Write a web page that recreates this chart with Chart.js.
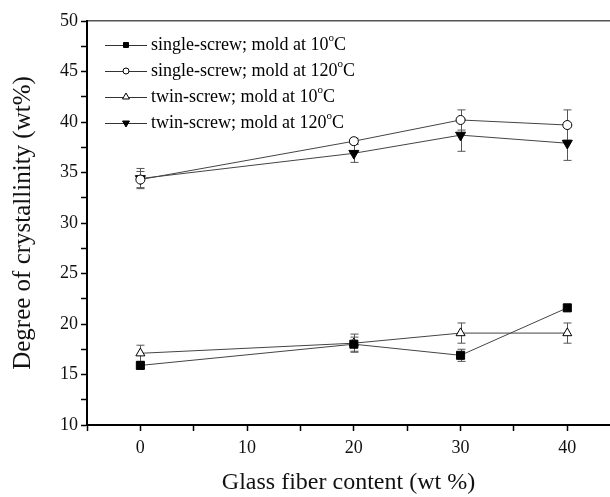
<!DOCTYPE html>
<html>
<head>
<meta charset="utf-8">
<script src="https://cdn.jsdelivr.net/npm/chart.js@4.4.0/dist/chart.umd.min.js"></script>
<style>
  html, body { margin: 0; padding: 0; background: #fff; }
  #wrap { width: 610px; height: 497px; }
</style>
</head>
<body>
<div id="wrap"><canvas id="chart" width="610" height="497"></canvas></div>
<script>
// Glass fiber content (wt %)
const fiberContent = [0, 20, 30, 40];

const seriesLabels = [
  'single-screw; mold at 10°C',
  'single-screw; mold at 120°C',
  'twin-screw; mold at 10°C',
  'twin-screw; mold at 120°C'
];

// degree of crystallinity (wt%) and error bar half-widths
const singleCold = [15.9, 18.0, 16.9, 21.6];
const singleColdErr = [0.3, 0.7, 0.6, 0.3];
const singleHot = [34.3, 38.1, 40.2, 39.7];
const singleHotErr = [0.8, 0.3, 1.0, 1.5];
const twinCold = [17.1, 18.1, 19.1, 19.1];
const twinColdErr = [0.8, 0.9, 1.0, 1.0];
const twinHot = [34.4, 36.9, 38.7, 37.9];
const twinHotErr = [1.0, 0.9, 1.6, 1.7];

const xTicks = [0, 10, 20, 30, 40];
const yTicks = [10, 15, 20, 25, 30, 35, 40, 45, 50];

const serif = 'Liberation Serif';

function toPoints(values) {
  return fiberContent.map((x, i) => ({ x: x, y: values[i] }));
}

function makeSet(label, values, errors, style) {
  return Object.assign({
    label: label,
    data: toPoints(values),
    errors: errors,
    borderColor: '#444',
    borderWidth: 1,
    pointBorderColor: '#000',
    pointBorderWidth: 1,
    tension: 0
  }, style);
}

const datasets = [
  makeSet(seriesLabels[0], singleCold, singleColdErr, { pointStyle: 'rect', pointRadius: 5.7, pointBackgroundColor: '#000', legendRadius: 3.5 }),
  makeSet(seriesLabels[1], singleHot, singleHotErr, { pointStyle: 'circle', pointRadius: 4.5, pointBackgroundColor: '#fff', legendRadius: 3 }),
  makeSet(seriesLabels[2], twinCold, twinColdErr, { pointStyle: 'triangle', pointRadius: 5.2, pointBackgroundColor: '#fff', legendRadius: 4 }),
  makeSet(seriesLabels[3], twinHot, twinHotErr, { pointStyle: 'triangle', pointRotation: 180, pointRadius: 5.8, pointBackgroundColor: '#000', legendRadius: 4 })
];

// vertical error bars with caps
const errorBars = {
  id: 'errorBars',
  beforeDatasetsDraw(chart) {
    const ctx = chart.ctx;
    const xs = chart.scales.x;
    const ys = chart.scales.y;
    ctx.save();
    ctx.strokeStyle = '#555';
    ctx.lineWidth = 1;
    chart.data.datasets.forEach(ds => {
      ds.data.forEach((p, i) => {
        const e = ds.errors[i];
        const px = Math.round(xs.getPixelForValue(p.x)) + 0.5;
        const top = ys.getPixelForValue(p.y + e);
        const bot = ys.getPixelForValue(p.y - e);
        ctx.beginPath();
        ctx.moveTo(px, top);
        ctx.lineTo(px, bot);
        ctx.moveTo(px - 4, top);
        ctx.lineTo(px + 4, top);
        ctx.moveTo(px - 4, bot);
        ctx.lineTo(px + 4, bot);
        ctx.stroke();
      });
    });
    ctx.restore();
  }
};

// legend inside the plot, with superscript "o" for degrees
const boxLegend = {
  id: 'boxLegend',
  afterDatasetsDraw(chart) {
    const ctx = chart.ctx;
    const x0 = 105;
    const y0 = 45;
    const rowGap = 26;
    ctx.save();
    chart.data.datasets.forEach((ds, i) => {
      const y = y0 + i * rowGap;
      ctx.strokeStyle = '#333';
      ctx.lineWidth = 1;
      ctx.beginPath();
      ctx.moveTo(x0, y + 0.5);
      ctx.lineTo(x0 + 42, y + 0.5);
      ctx.stroke();
      ctx.fillStyle = ds.pointBackgroundColor;
      ctx.strokeStyle = ds.pointBorderColor;
      Chart.helpers.drawPoint(ctx, {
        pointStyle: ds.pointStyle,
        radius: ds.legendRadius,
        rotation: ds.pointRotation || 0,
        borderWidth: 1
      }, x0 + 21, y);

      const parts = ds.label.split('°');
      let tx = x0 + 46;
      ctx.fillStyle = '#000';
      ctx.textBaseline = 'middle';
      ctx.font = '18px "' + serif + '"';
      ctx.fillText(parts[0], tx, y);
      tx += ctx.measureText(parts[0]).width;
      if (parts.length > 1) {
        ctx.font = '11px "' + serif + '"';
        ctx.fillText('o', tx, y - 7);
        tx += ctx.measureText('o').width;
        ctx.font = '18px "' + serif + '"';
        ctx.fillText(parts[1], tx, y);
      }
    });
    ctx.restore();
  }
};

new Chart(document.getElementById('chart'), {
  type: 'line',
  data: { datasets: datasets },
  options: {
    responsive: false,
    devicePixelRatio: 1,
    animation: false,
    layout: { autoPadding: false, padding: { left: 0, right: 0, top: 0, bottom: 0 } },
    plugins: {
      legend: { display: false },
      tooltip: { enabled: false }
    },
    scales: {
      x: {
        type: 'linear',
        position: 'bottom',
        min: -5,
        max: 44,
        afterFit(scale) { scale.height = 72; },
        ticks: {
          stepSize: 5,
          includeBounds: false,
          maxRotation: 0,
          autoSkip: false,
          padding: 6,
          color: '#111',
          font: { family: serif, size: 18 },
          callback: v => xTicks.includes(v) ? String(v) : ''
        },
        grid: { drawOnChartArea: false, tickLength: 6, tickColor: '#000', tickWidth: 1.5 },
        border: { color: '#000', width: 2 },
        title: {
          display: true,
          text: 'Glass fiber content (wt %)',
          color: '#111',
          font: { family: serif, size: 24 },
          padding: { top: 0, bottom: 0 }
        }
      },
      x2: {
        type: 'linear',
        position: 'top',
        min: -5,
        max: 44,
        afterFit(scale) { scale.height = 21; },
        ticks: { display: false },
        grid: { display: false, drawTicks: false },
        border: { color: '#555', width: 1.5 }
      },
      y: {
        type: 'linear',
        position: 'left',
        min: 10,
        max: 50,
        afterFit(scale) { scale.width = 87; },
        ticks: {
          stepSize: 2.5,
          autoSkip: false,
          padding: 3,
          color: '#111',
          font: { family: serif, size: 18 },
          callback: v => yTicks.includes(v) ? String(v) : ''
        },
        grid: { drawOnChartArea: false, tickLength: 6, tickColor: '#000', tickWidth: 1.5 },
        border: { color: '#000', width: 2 },
        title: {
          display: true,
          text: 'Degree of crystallinity (wt%)',
          color: '#111',
          font: { family: serif, size: 25 },
          padding: { top: 8, bottom: 0 }
        }
      }
    }
  },
  plugins: [errorBars, boxLegend]
});
</script>
</body>
</html>
